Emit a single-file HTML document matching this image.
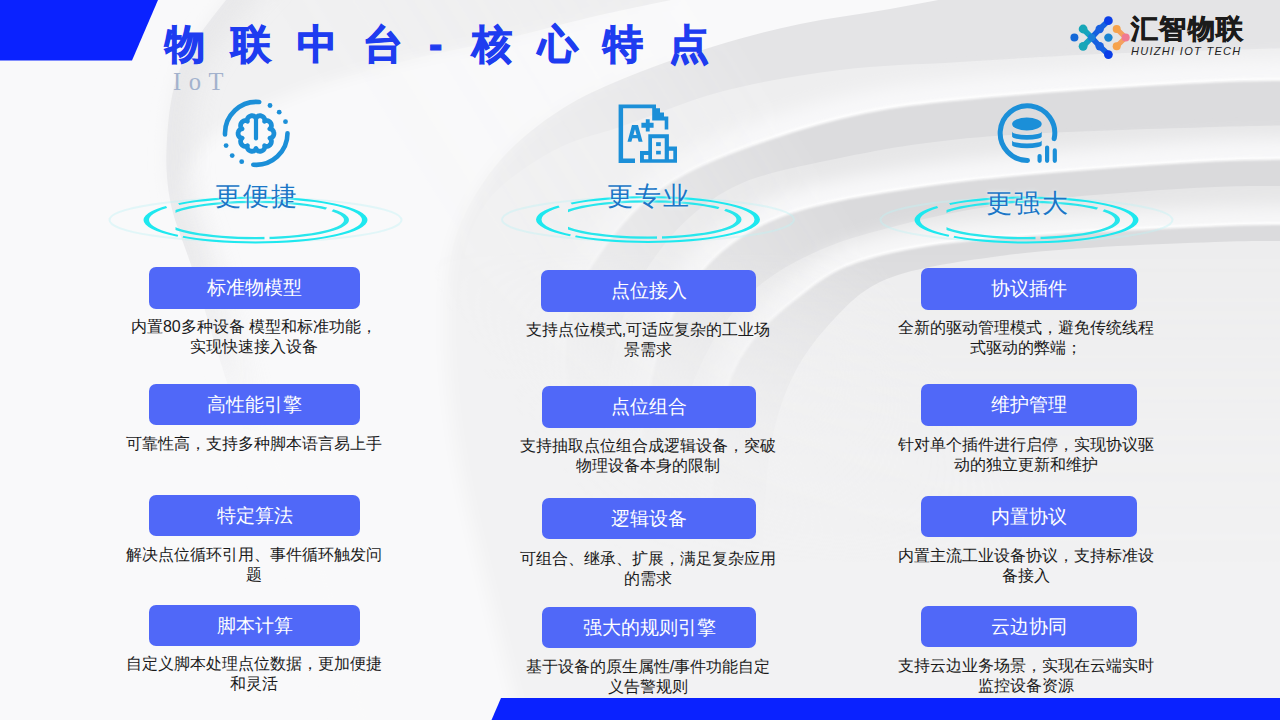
<!DOCTYPE html>
<html><head><meta charset="utf-8">
<style>
html,body{margin:0;padding:0;}
body{width:1280px;height:720px;position:relative;overflow:hidden;background:#fafafb;font-family:"Liberation Sans",sans-serif;}
.abs{position:absolute;}
#bg{position:absolute;left:0;top:0;}
.title{left:165px;top:16px;font-size:40px;font-weight:bold;color:#1e3cf0;-webkit-text-stroke:1.1px #1e3cf0;letter-spacing:26px;white-space:nowrap;line-height:56px;}
.iot{left:173px;top:66px;font-family:"Liberation Serif",serif;font-size:24.5px;color:#a3b2cd;letter-spacing:7.5px;line-height:32px;}
.btn{position:absolute;background:#5068f8;border-radius:7px;color:#fff;font-size:18.5px;text-align:center;line-height:42px;height:42px;}
.desc{position:absolute;font-size:16px;line-height:20px;color:#1a1a1a;text-align:center;white-space:nowrap;width:300px;}
.lab{position:absolute;font-size:26px;color:#1b76c6;letter-spacing:2px;line-height:30px;white-space:nowrap;text-shadow:0 0 2px rgba(240,252,255,0.9),0 0 5px rgba(240,252,255,0.8);}
.logo1{left:1131px;top:12px;font-size:27px;font-weight:bold;color:#1b1b1b;-webkit-text-stroke:0.7px #1b1b1b;letter-spacing:1.4px;line-height:34px;white-space:nowrap;}
.logo2{left:1131px;top:44px;font-size:11px;font-style:italic;color:#222;letter-spacing:1.3px;line-height:14px;white-space:nowrap;}
</style></head>
<body>
<svg id="bg" width="1280" height="720" viewBox="0 0 1280 720">
<defs>
<filter id="bl1" x="-50%" y="-50%" width="200%" height="200%"><feGaussianBlur stdDeviation="9"/></filter>
<filter id="bl2" x="-50%" y="-50%" width="200%" height="200%"><feGaussianBlur stdDeviation="2"/></filter>
<filter id="bl3" x="-50%%" y="-50%%" width="200%%" height="200%%"><feGaussianBlur stdDeviation="0.8"/></filter>
<linearGradient id="fg" x1="1000" y1="130" x2="520" y2="430" gradientUnits="userSpaceOnUse"><stop offset="0" stop-color="#fff"/><stop offset="0.3" stop-color="#fff"/><stop offset="0.62" stop-color="#777"/><stop offset="0.85" stop-color="#222"/><stop offset="1" stop-color="#000"/></linearGradient>
<mask id="fade" maskUnits="userSpaceOnUse" x="0" y="0" width="1280" height="720"><rect width="1280" height="720" fill="url(#fg)"/></mask>
<filter id="bl4" x="0" y="0" width="1280" height="720" filterUnits="userSpaceOnUse"><feGaussianBlur stdDeviation="8"/></filter>
<filter id="bl5" x="0" y="0" width="1280" height="720" filterUnits="userSpaceOnUse"><feGaussianBlur stdDeviation="12"/></filter>
<linearGradient id="fgL" x1="0" y1="0" x2="0" y2="720" gradientUnits="userSpaceOnUse"><stop offset="0" stop-color="#fff"/><stop offset="0.35" stop-color="#fff"/><stop offset="0.6" stop-color="#000"/></linearGradient>
<mask id="fadeL" maskUnits="userSpaceOnUse" x="0" y="0" width="1280" height="720"><rect width="1280" height="720" fill="url(#fgL)"/></mask>
<linearGradient id="fgV" x1="0" y1="0" x2="0" y2="720" gradientUnits="userSpaceOnUse"><stop offset="0" stop-color="#fff"/><stop offset="0.35" stop-color="#fff"/><stop offset="0.46" stop-color="#aaa"/><stop offset="0.62" stop-color="#444"/><stop offset="0.8" stop-color="#000"/></linearGradient>
<mask id="fadeV" maskUnits="userSpaceOnUse" x="0" y="0" width="1280" height="720"><rect width="1280" height="720" fill="url(#fgV)"/></mask>
</defs>
<rect width="1280" height="720" fill="#f9f9fa"/>
<g filter="url(#bl4)">
<path d="M262.0,-40.0 C250.0,-26.7 238.2,-15.7 226.0,0.0 C210.9,19.4 189.8,44.9 180.0,69.0 C170.9,91.4 168.5,116.4 167.0,139.0 C165.6,159.9 166.2,179.4 170.0,200.0 C174.1,222.3 183.3,240.8 192.0,268.0 C205.0,308.6 221.7,370.8 240.0,420.0 C257.8,468.1 281.3,508.6 300.0,560.0 C321.8,620.2 340.0,693.3 360.0,760.0 L1400,800 L1400,-100 Z" fill="#f1f1f2"/>
<path d="M720.0,-10.0 C680.0,-1.7 638.1,6.3 600.0,15.0 C565.1,23.0 533.4,32.2 500.0,40.0 C466.7,47.8 433.2,53.4 400.0,62.0 C366.5,70.7 330.5,80.2 300.0,92.0 C272.8,102.6 245.2,113.7 225.0,128.0 C208.4,139.8 194.1,153.9 185.0,168.0 C177.4,179.8 171.3,191.0 171.0,205.0 C170.6,223.2 183.7,242.4 192.0,268.0 C204.9,307.6 221.7,370.8 240.0,420.0 C257.8,468.1 281.3,508.6 300.0,560.0 C321.8,620.2 340.0,693.3 360.0,760.0 L1400,800 L1400,-100 Z" fill="#f9f9fa"/>
<path d="M980.0,-8.0 C950.0,-2.3 920.0,3.7 890.0,9.0 C860.0,14.3 829.4,17.8 800.0,24.0 C771.1,30.1 743.9,37.1 715.0,46.0 C684.0,55.5 647.1,68.5 620.0,80.0 C598.9,88.9 582.4,96.3 565.0,107.0 C547.4,117.9 529.0,131.8 515.0,145.0 C503.0,156.3 493.8,167.5 485.0,180.0 C476.2,192.5 467.9,206.3 462.0,220.0 C456.4,233.0 452.7,245.2 450.0,260.0 C446.8,277.8 446.2,298.6 446.0,320.0 C445.8,344.7 447.3,373.4 450.0,400.0 C452.7,426.7 456.4,450.8 462.0,480.0 C468.9,516.1 479.7,557.2 490.0,600.0 C502.0,649.5 516.7,706.7 530.0,760.0 L1400,800 L1400,-100 Z" fill="#f2f2f3"/>
</g>
<g mask="url(#fade)"><g mask="url(#fadeV)">
<path d="M262.0,-40.0 C250.0,-26.7 238.2,-15.7 226.0,0.0 C210.9,19.4 189.8,44.9 180.0,69.0 C170.9,91.4 168.5,116.4 167.0,139.0 C165.6,159.9 166.2,179.4 170.0,200.0 C174.1,222.3 183.3,240.8 192.0,268.0 C205.0,308.6 221.7,370.8 240.0,420.0 C257.8,468.1 281.3,508.6 300.0,560.0 C321.8,620.2 340.0,693.3 360.0,760.0 L1400,800 L1400,-100 Z" fill="#ededee"/>
<path d="M720.0,-10.0 C680.0,-1.7 638.1,6.3 600.0,15.0 C565.1,23.0 533.4,32.2 500.0,40.0 C466.7,47.8 433.2,53.4 400.0,62.0 C366.5,70.7 330.5,80.2 300.0,92.0 C272.8,102.6 245.2,113.7 225.0,128.0 C208.4,139.8 194.1,153.9 185.0,168.0 C177.4,179.8 171.3,191.0 171.0,205.0 C170.6,223.2 183.7,242.4 192.0,268.0 C204.9,307.6 221.7,370.8 240.0,420.0 C257.8,468.1 281.3,508.6 300.0,560.0 C321.8,620.2 340.0,693.3 360.0,760.0 L1400,800 L1400,-100 Z" fill="#f9f9fa"/>
<path d="M980.0,-8.0 C950.0,-2.3 920.0,3.7 890.0,9.0 C860.0,14.3 829.4,17.8 800.0,24.0 C771.1,30.1 743.9,37.1 715.0,46.0 C684.0,55.5 647.1,68.5 620.0,80.0 C598.9,88.9 582.4,96.3 565.0,107.0 C547.4,117.9 529.0,131.8 515.0,145.0 C503.0,156.3 493.8,167.5 485.0,180.0 C476.2,192.5 467.9,206.3 462.0,220.0 C456.4,233.0 452.7,245.2 450.0,260.0 C446.8,277.8 446.2,298.6 446.0,320.0 C445.8,344.7 447.3,373.4 450.0,400.0 C452.7,426.7 456.4,450.8 462.0,480.0 C468.9,516.1 479.7,557.2 490.0,600.0 C502.0,649.5 516.7,706.7 530.0,760.0 L1400,800 L1400,-100 Z" fill="#e4e4e6"/>
<path d="M1320.0,47.0 C1246.7,49.3 1165.1,51.1 1100.0,54.0 C1048.1,56.3 1004.9,59.2 960.0,62.0 C918.5,64.6 879.9,65.0 840.0,70.0 C799.9,75.0 757.8,82.0 720.0,92.0 C684.8,101.3 648.4,117.4 620.0,127.0 C599.0,134.1 581.8,137.4 565.0,145.0 C549.4,152.0 534.9,160.8 522.0,170.0 C510.1,178.6 498.7,187.1 490.0,198.0 C481.4,208.8 474.9,221.0 470.0,235.0 C464.3,251.1 462.0,270.5 460.0,290.0 C457.7,311.8 457.1,333.6 458.0,360.0 C459.2,394.7 463.1,440.3 470.0,480.0 C477.0,520.3 489.3,557.1 500.0,600.0 C512.4,649.5 526.7,706.7 540.0,760.0 L1400,800 L1400,-100 Z" fill="#eeeeef"/>
<path d="M1320.0,79.0 C1285.0,79.7 1257.6,79.1 1215.0,81.0 C1148.5,84.0 1024.4,92.3 960.0,99.0 C920.6,103.1 896.8,105.4 865.0,112.0 C831.9,118.9 796.0,129.3 765.0,140.0 C737.1,149.6 709.2,159.9 687.0,172.0 C668.7,182.0 653.9,192.5 640.0,205.0 C626.7,217.0 615.2,231.2 605.0,245.0 C595.4,258.0 586.7,270.9 580.0,285.0 C573.3,299.2 567.4,312.2 565.0,330.0 C561.7,354.6 567.6,389.2 570.0,420.0 C572.5,452.5 577.5,485.1 580.0,520.0 C582.7,558.1 583.3,600.0 585.0,640.0 C586.7,680.0 588.3,720.0 590.0,760.0" fill="none" stroke="#f8f8f9" stroke-width="40" opacity="1.00" filter="url(#bl1)"/>
<path d="M1320.0,79.0 C1285.0,79.7 1257.6,79.1 1215.0,81.0 C1148.5,84.0 1024.4,92.3 960.0,99.0 C920.6,103.1 896.8,105.4 865.0,112.0 C831.9,118.9 796.0,129.3 765.0,140.0 C737.1,149.6 709.2,159.9 687.0,172.0 C668.7,182.0 653.9,192.5 640.0,205.0 C626.7,217.0 615.2,231.2 605.0,245.0 C595.4,258.0 586.7,270.9 580.0,285.0 C573.3,299.2 567.4,312.2 565.0,330.0 C561.7,354.6 567.6,389.2 570.0,420.0 C572.5,452.5 577.5,485.1 580.0,520.0 C582.7,558.1 583.3,600.0 585.0,640.0 C586.7,680.0 588.3,720.0 590.0,760.0 L1400,800 L1400,-100 Z" fill="#dcdcde"/>
<path d="M1320.0,125.0 C1285.0,125.7 1257.6,125.6 1215.0,127.0 C1148.5,129.2 1029.0,131.9 960.0,139.0 C912.4,143.9 878.0,150.1 840.0,158.0 C805.0,165.3 766.8,172.1 740.0,184.0 C719.6,193.1 704.5,204.4 690.0,217.0 C676.4,228.9 665.1,242.9 655.0,257.0 C645.2,270.6 636.9,284.0 630.0,300.0 C622.2,317.9 616.2,337.7 612.0,360.0 C607.0,386.7 605.5,418.5 605.0,450.0 C604.4,484.8 608.0,517.9 610.0,560.0 C612.7,616.8 616.7,693.3 620.0,760.0 L1400,800 L1400,-100 Z" fill="#e7e7e8"/>
<path d="M1320.0,158.0 C1285.0,158.7 1258.8,157.7 1215.0,160.0 C1141.5,163.9 999.9,174.0 920.0,186.0 C864.4,194.4 815.7,202.1 780.0,216.0 C755.5,225.5 738.8,235.9 722.0,250.0 C705.5,263.9 691.2,281.6 680.0,300.0 C668.9,318.3 661.5,337.6 655.0,360.0 C647.4,386.6 643.3,418.4 640.0,450.0 C636.3,484.7 636.0,517.9 635.0,560.0 C633.7,616.8 635.0,693.3 635.0,760.0" fill="none" stroke="#f8f8f9" stroke-width="40" opacity="1.00" filter="url(#bl1)"/>
<path d="M1320.0,79.0 C1285.0,79.7 1257.6,79.1 1215.0,81.0 C1148.5,84.0 1024.4,92.3 960.0,99.0 C920.6,103.1 896.8,105.4 865.0,112.0 C831.9,118.9 796.0,129.3 765.0,140.0 C737.1,149.6 709.2,159.9 687.0,172.0 C668.7,182.0 653.9,192.5 640.0,205.0 C626.7,217.0 615.2,231.2 605.0,245.0 C595.4,258.0 586.7,270.9 580.0,285.0 C573.3,299.2 567.4,312.2 565.0,330.0 C561.7,354.6 567.6,389.2 570.0,420.0 C572.5,452.5 577.5,485.1 580.0,520.0 C582.7,558.1 583.3,600.0 585.0,640.0 C586.7,680.0 588.3,720.0 590.0,760.0" fill="none" stroke="#ffffff" stroke-width="3.0" opacity="0.90" filter="url(#bl3)"/>
<path d="M1320.0,158.0 C1285.0,158.7 1258.8,157.7 1215.0,160.0 C1141.5,163.9 999.9,174.0 920.0,186.0 C864.4,194.4 815.7,202.1 780.0,216.0 C755.5,225.5 738.8,235.9 722.0,250.0 C705.5,263.9 691.2,281.6 680.0,300.0 C668.9,318.3 661.5,337.6 655.0,360.0 C647.4,386.6 643.3,418.4 640.0,450.0 C636.3,484.7 636.0,517.9 635.0,560.0 C633.7,616.8 635.0,693.3 635.0,760.0 L1400,800 L1400,-100 Z" fill="#dadadc"/>
<path d="M1320.0,186.0 C1285.0,186.3 1256.2,185.1 1215.0,187.0 C1156.0,189.7 1057.9,196.8 1000.0,205.0 C960.2,210.6 931.3,217.0 900.0,225.0 C871.6,232.2 844.2,239.3 820.0,250.0 C798.0,259.7 777.1,271.0 760.0,285.0 C744.1,298.0 731.5,313.1 720.0,330.0 C707.9,347.9 699.0,367.6 690.0,390.0 C679.3,416.6 667.9,447.5 662.0,480.0 C655.3,516.8 656.9,557.1 655.0,600.0 C652.8,649.5 651.7,706.7 650.0,760.0 L1400,800 L1400,-100 Z" fill="#e6e6e7"/>
<path d="M1320.0,223.0 C1285.0,223.7 1258.8,223.0 1215.0,225.0 C1141.5,228.3 987.0,234.5 920.0,246.0 C884.5,252.1 861.9,257.9 840.0,268.0 C822.7,276.0 810.5,286.5 797.0,297.0 C783.8,307.2 770.6,317.9 760.0,330.0 C749.8,341.7 740.9,353.8 734.0,368.0 C726.5,383.5 721.5,403.7 718.0,420.0 C715.0,434.1 714.3,443.6 713.0,460.0 C711.0,485.8 711.1,520.9 710.0,560.0 C708.5,615.2 706.7,693.3 705.0,760.0" fill="none" stroke="#f7f7f8" stroke-width="36" opacity="1.00" filter="url(#bl1)"/>
<path d="M1320.0,158.0 C1285.0,158.7 1258.8,157.7 1215.0,160.0 C1141.5,163.9 999.9,174.0 920.0,186.0 C864.4,194.4 815.7,202.1 780.0,216.0 C755.5,225.5 738.8,235.9 722.0,250.0 C705.5,263.9 691.2,281.6 680.0,300.0 C668.9,318.3 661.5,337.6 655.0,360.0 C647.4,386.6 643.3,418.4 640.0,450.0 C636.3,484.7 636.0,517.9 635.0,560.0 C633.7,616.8 635.0,693.3 635.0,760.0" fill="none" stroke="#ffffff" stroke-width="3.0" opacity="0.90" filter="url(#bl3)"/>
<path d="M1320.0,223.0 C1285.0,223.7 1258.8,223.0 1215.0,225.0 C1141.5,228.3 987.0,234.5 920.0,246.0 C884.5,252.1 861.9,257.9 840.0,268.0 C822.7,276.0 810.5,286.5 797.0,297.0 C783.8,307.2 770.6,317.9 760.0,330.0 C749.8,341.7 740.9,353.8 734.0,368.0 C726.5,383.5 721.5,403.7 718.0,420.0 C715.0,434.1 714.3,443.6 713.0,460.0 C711.0,485.8 711.1,520.9 710.0,560.0 C708.5,615.2 706.7,693.3 705.0,760.0 L1400,800 L1400,-100 Z" fill="#dbdbdd"/>
<path d="M1320.0,241.0 C1285.0,241.3 1256.2,240.5 1215.0,242.0 C1156.0,244.2 1061.0,247.5 1000.0,256.0 C953.9,262.5 909.3,268.1 880.0,282.0 C860.0,291.5 848.7,303.8 835.0,318.0 C820.2,333.4 805.4,352.1 795.0,372.0 C784.2,392.6 777.4,413.8 772.0,440.0 C764.9,474.0 765.0,514.9 762.0,560.0 C758.1,618.2 755.3,693.3 752.0,760.0 L1400,800 L1400,-100 Z" fill="#ededee"/>
<path d="M1320.0,223.0 C1285.0,223.7 1258.8,223.0 1215.0,225.0 C1141.5,228.3 987.0,234.5 920.0,246.0 C884.5,252.1 861.9,257.9 840.0,268.0 C822.7,276.0 810.5,286.5 797.0,297.0 C783.8,307.2 770.6,317.9 760.0,330.0 C749.8,341.7 740.9,353.8 734.0,368.0 C726.5,383.5 721.5,403.7 718.0,420.0 C715.0,434.1 714.3,443.6 713.0,460.0 C711.0,485.8 711.1,520.9 710.0,560.0 C708.5,615.2 706.7,693.3 705.0,760.0" fill="none" stroke="#ffffff" stroke-width="3.0" opacity="0.90" filter="url(#bl3)"/>
</g></g>
<clipPath id="cxL"><path d="M262.0,-40.0 C250.0,-26.7 238.2,-15.7 226.0,0.0 C210.9,19.4 189.8,44.9 180.0,69.0 C170.9,91.4 168.5,116.4 167.0,139.0 C165.6,159.9 166.2,179.4 170.0,200.0 C174.1,222.3 183.3,240.8 192.0,268.0 C205.0,308.6 221.7,370.8 240.0,420.0 C257.8,468.1 281.3,508.6 300.0,560.0 C321.8,620.2 340.0,693.3 360.0,760.0 L1400,800 L1400,-100 Z"/></clipPath>
<g clip-path="url(#cxL)"><path d="M262.0,-40.0 C250.0,-26.7 238.2,-15.7 226.0,0.0 C210.9,19.4 189.8,44.9 180.0,69.0 C170.9,91.4 168.5,116.4 167.0,139.0 C165.6,159.9 166.2,179.4 170.0,200.0 C174.1,222.3 183.3,240.8 192.0,268.0 C205.0,308.6 221.7,370.8 240.0,420.0 C257.8,468.1 281.3,508.6 300.0,560.0 C321.8,620.2 340.0,693.3 360.0,760.0" fill="none" stroke="#e4e4e6" stroke-width="44" opacity="0.70" filter="url(#bl5)" mask="url(#fadeL)"/></g>
</svg>

<!-- top-left blue shape and bottom bar -->
<svg class="abs" style="left:0;top:0" width="1280" height="720" viewBox="0 0 1280 720">
  <polygon points="0,0 158,0 132,60.5 0,60.5" fill="#0a22ff"/>
  <polygon points="501,698 1280,698 1280,720 491.5,720" fill="#0a22ff"/>
</svg>

<!-- ICONS -->
<svg class="abs" style="left:0;top:0" width="1280" height="720" viewBox="0 0 1280 720">
 <defs>
  <g id="ring">
   <ellipse cx="0" cy="0" rx="146" ry="22" fill="none" stroke="#bdf3f6" stroke-width="2" opacity="0.4"/>
   <path fill-rule="evenodd" fill="#1ee8ef" d="M-112,0 A112,23.5 0 1,0 112,0 A112,23.5 0 1,0 -112,0Z M-106.5,0 A106.5,21.5 0 1,1 106.5,0 A106.5,21.5 0 1,1 -106.5,0Z" mask="url(#gapO)"/>
   <path fill-rule="evenodd" fill="#28e6ec" d="M-93.5,0 A93.5,19.3 0 1,0 93.5,0 A93.5,19.3 0 1,0 -93.5,0Z M-88.5,0 A88.5,17 0 1,1 88.5,0 A88.5,17 0 1,1 -88.5,0Z" mask="url(#gapI)"/>
  </g>
  <mask id="gapO" maskUnits="userSpaceOnUse" x="-200" y="-60" width="400" height="120">
   <rect x="-200" y="-60" width="400" height="120" fill="#fff"/>
   <rect x="-92" y="-30" width="12" height="20" fill="#000" transform="rotate(-30 -86 -20)"/>
   <rect x="-79" y="10" width="5" height="25" fill="#000" transform="rotate(20 -77 20)"/>
  </mask>
  <mask id="gapI" maskUnits="userSpaceOnUse" x="-200" y="-60" width="400" height="120">
   <rect x="-200" y="-60" width="400" height="120" fill="#fff"/>
   <rect x="-110" y="-14" width="30" height="30" fill="#000"/>
   <rect x="9" y="10" width="5" height="20" fill="#000"/>
   <rect x="74" y="-25" width="6" height="20" fill="#000" transform="rotate(35 77 -15)"/>
  </mask>
 </defs>
 <use href="#ring" transform="translate(255.5,220)"/>
 <use href="#ring" transform="translate(648,219.5)"/>
 <use href="#ring" transform="translate(1026.5,220)"/>

 <!-- icon 1 brain -->
 <g fill="none" stroke="#1b8fd8" stroke-linecap="round">
  <path d="M225,134.4 A31.5,31.5 0 0,1 259.2,102.0" stroke-width="4.6"/>
  <path d="M287.5,133.3 A31.5,31.5 0 0,1 253.3,164.7" stroke-width="4.6"/>
  <path d="M273.9,133.5 273.9,134.1 273.8,134.7 273.6,135.2 273.4,135.8 273.1,136.3 272.7,136.8 272.3,137.2 271.7,137.7 271.1,138.0 269.9,138.1 270.8,139.0 271.1,139.7 271.3,140.3 271.4,141.0 271.4,141.6 271.3,142.2 271.2,142.8 271.0,143.3 270.8,143.8 270.5,144.3 270.1,144.8 269.7,145.2 269.3,145.5 268.8,145.8 268.2,146.1 267.6,146.3 267.0,146.4 266.3,146.4 265.6,146.3 264.6,145.7 264.8,146.9 264.7,147.6 264.5,148.3 264.2,148.8 263.8,149.4 263.5,149.8 263.0,150.2 262.6,150.5 262.1,150.8 261.5,151.0 261.0,151.2 260.4,151.3 259.9,151.3 259.3,151.2 258.7,151.1 258.1,150.9 257.6,150.6 257.0,150.2 256.5,149.6 256.0,148.5 255.5,149.6 255.0,150.2 254.4,150.6 253.9,150.9 253.3,151.1 252.7,151.2 252.1,151.3 251.6,151.3 251.0,151.2 250.5,151.0 249.9,150.8 249.4,150.5 249.0,150.2 248.5,149.8 248.2,149.4 247.8,148.8 247.5,148.3 247.3,147.6 247.2,146.9 247.4,145.7 246.4,146.3 245.7,146.4 245.0,146.4 244.4,146.3 243.8,146.1 243.2,145.8 242.7,145.5 242.3,145.2 241.9,144.8 241.5,144.3 241.2,143.8 241.0,143.3 240.8,142.8 240.7,142.2 240.6,141.6 240.6,141.0 240.7,140.3 240.9,139.7 241.2,139.0 242.1,138.1 240.9,138.0 240.3,137.7 239.7,137.2 239.3,136.8 238.9,136.3 238.6,135.8 238.4,135.2 238.2,134.7 238.1,134.1 238.1,133.5 238.1,132.9 238.2,132.3 238.4,131.8 238.6,131.2 238.9,130.7 239.3,130.2 239.7,129.8 240.3,129.3 240.9,129.0 242.1,128.9 241.2,128.0 240.9,127.3 240.7,126.7 240.6,126.0 240.6,125.4 240.7,124.8 240.8,124.2 241.0,123.7 241.2,123.2 241.5,122.7 241.9,122.2 242.3,121.8 242.7,121.5 243.2,121.2 243.8,120.9 244.4,120.7 245.0,120.6 245.7,120.6 246.4,120.7 247.4,121.3 247.2,120.1 247.3,119.4 247.5,118.7 247.8,118.2 248.2,117.6 248.5,117.2 249.0,116.8 249.4,116.5 249.9,116.2 250.5,116.0 251.0,115.8 251.6,115.7 252.1,115.7 252.7,115.8 253.3,115.9 253.9,116.1 254.4,116.4 255.0,116.8 255.5,117.4 256.0,118.5 256.5,117.4 257.0,116.8 257.6,116.4 258.1,116.1 258.7,115.9 259.3,115.8 259.9,115.7 260.4,115.7 261.0,115.8 261.5,116.0 262.1,116.2 262.6,116.5 263.0,116.8 263.5,117.2 263.8,117.6 264.2,118.2 264.5,118.7 264.7,119.4 264.8,120.1 264.6,121.3 265.6,120.7 266.3,120.6 267.0,120.6 267.6,120.7 268.2,120.9 268.8,121.2 269.3,121.5 269.7,121.8 270.1,122.2 270.5,122.7 270.8,123.2 271.0,123.7 271.2,124.2 271.3,124.8 271.4,125.4 271.4,126.0 271.3,126.7 271.1,127.3 270.8,128.0 269.9,128.9 271.1,129.0 271.7,129.3 272.3,129.8 272.7,130.2 273.1,130.7 273.4,131.2 273.6,131.8 273.8,132.3 273.9,132.9Z" stroke-width="4.8" stroke-linejoin="round"/>
  <path d="M256,120 L256,138.5" stroke-width="4.2"/>
 </g>
 <g fill="#1b8fd8">
  <circle cx="270" cy="105.5" r="2.4"/><circle cx="279.2" cy="112.2" r="2.4"/><circle cx="285.5" cy="121.7" r="2.4"/>
  <circle cx="226.1" cy="145.6" r="2.4"/><circle cx="232.2" cy="155.6" r="2.4"/><circle cx="241.7" cy="161.7" r="2.4"/>
 </g>

 <!-- icon 2 doc -->
 <g fill="#1b8fd8">
  <path d="M618.6,104.4 H656 V108.3 H660 V112.4 H664 V116.5 H668.3 V129.4 H664.7 V120.5 H652.2 V108.3 H623.1 V158.6 H635 V163 H618.6 Z"/>
  <path d="M632,125 H638 L642.6,141.7 H638.6 L637.6,138.3 H632.4 L631.4,141.7 H627.5 Z M633.4,135 H636.6 L635,129.2 Z" fill-rule="evenodd"/>
  <path d="M645.8,119.2 H649.7 V122.8 H653.6 V127.8 H649.7 V131.4 H645.8 V127.8 H641.4 V122.8 H645.8 Z"/>
  <path fill-rule="evenodd" d="M640,151.1 H648.3 V134.2 H668.9 V146.4 H677 V162.8 H640 Z M643.9,155 H648.3 V159.2 H643.9 Z M668.9,150.8 H673.3 V159.2 H668.9 Z M652,138.3 H664.7 V159.2 H652 Z"/>
  <rect x="656.1" y="142.2" width="4.7" height="3.9"/>
  <rect x="656.1" y="150.8" width="4.7" height="3.6"/>
 </g>

 <!-- icon 3 db -->
 <g fill="none" stroke="#1b8fd8" stroke-linecap="round">
  <path d="M1027.5,160.4 A27.3,27.3 0 1,1 1054.2,138.6" stroke-width="5"/>
  <path d="M1039.6,156 V160.8 M1047.1,147.6 V160.8 M1054.8,150.4 V160.8" stroke-width="4.2"/>
 </g>
 <g fill="#1b8fd8">
  <ellipse cx="1026.9" cy="124" rx="14.8" ry="6.45"/>
  <path d="M1012.1,131.5 A14.8,3.6 0 0,0 1041.7,131.5 V136.6 A14.8,3.1 0 0,1 1012.1,136.6Z"/>
  <path d="M1012.1,140.4 A14.8,3.0 0 0,0 1041.7,140.4 V145 A14.8,3.3 0 0,1 1012.1,145Z"/>
 </g>

 <!-- logo mark -->
 <g stroke-linecap="round" fill="none" stroke-width="5.5">
  <path d="M1083.1,29 L1091.7,37.6 L1083.1,46.3" stroke="#16a3c0"/>
  <path d="M1091.7,37.6 L1099.7,29 L1108.4,20.7 M1091.7,37.6 L1099.7,46.3 L1108.4,54.6" stroke="#1660e0"/>
  <path d="M1116.7,29 L1125.7,37.6 L1116.7,46.3" stroke="#f4a060" stroke-width="5"/>
 </g>
 <g>
  <circle cx="1074.4" cy="37.6" r="4" fill="#1468d8"/>
  <circle cx="1083.1" cy="29" r="4.4" fill="#17a6b8"/>
  <circle cx="1083.1" cy="46.3" r="4.4" fill="#17a6b8"/>
  <circle cx="1091.7" cy="37.6" r="3.8" fill="#1a7fd8"/>
  <circle cx="1099.7" cy="29" r="4.2" fill="#1860e0"/>
  <circle cx="1099.7" cy="46.3" r="4.2" fill="#1860e0"/>
  <circle cx="1108.4" cy="20.7" r="4.4" fill="#0b3ee8"/>
  <circle cx="1108.4" cy="54.6" r="4.4" fill="#0b3ee8"/>
  <circle cx="1108.4" cy="37.6" r="4.2" fill="#1a84d0"/>
  <circle cx="1116.7" cy="29" r="4" fill="#f6a24c"/>
  <circle cx="1116.7" cy="46.3" r="4" fill="#f6a24c"/>
  <circle cx="1125.7" cy="37.6" r="4" fill="#f07a92"/>
 </g>
</svg>
<!-- /ICONS -->
<div class="abs title">物联中台<span style="letter-spacing:30px">-</span><span style="letter-spacing:25.5px">核心特点</span></div>
<div class="abs iot">IoT</div>

<div class="abs logo1">汇智物联</div>
<div class="abs logo2">HUIZHI IOT TECH</div>

<!-- labels -->
<div class="lab" style="left:215px;top:181px;">更便捷</div>
<div class="lab" style="left:607px;top:181px;">更专业</div>
<div class="lab" style="left:986px;top:188px;">更强大</div>

<!-- column 1 -->
<div class="btn" style="left:149px;top:267px;width:211px;">标准物模型</div>
<div class="desc" style="left:104px;top:317px;">内置80多种设备 模型和标准功能，<br>实现快速接入设备</div>
<div class="btn" style="left:149px;top:384px;width:211px;height:41px;line-height:41px;">高性能引擎</div>
<div class="desc" style="left:104px;top:434px;">可靠性高，支持多种脚本语言易上手</div>
<div class="btn" style="left:149px;top:495px;width:211px;height:41px;line-height:41px;">特定算法</div>
<div class="desc" style="left:104px;top:545px;">解决点位循环引用、事件循环触发问<br>题</div>
<div class="btn" style="left:149px;top:605px;width:211px;height:41px;line-height:41px;">脚本计算</div>
<div class="desc" style="left:104px;top:654px;">自定义脚本处理点位数据，更加便捷<br>和灵活</div>

<!-- column 2 -->
<div class="btn" style="left:541px;top:270px;width:215px;">点位接入</div>
<div class="desc" style="left:498px;top:320px;">支持点位模式,可适应复杂的工业场<br>景需求</div>
<div class="btn" style="left:542px;top:386px;width:214px;">点位组合</div>
<div class="desc" style="left:498px;top:436px;">支持抽取点位组合成逻辑设备，突破<br>物理设备本身的限制</div>
<div class="btn" style="left:542px;top:498px;width:214px;height:41px;line-height:41px;">逻辑设备</div>
<div class="desc" style="left:498px;top:549px;">可组合、继承、扩展，满足复杂应用<br>的需求</div>
<div class="btn" style="left:542px;top:607px;width:214px;height:41px;line-height:41px;">强大的规则引擎</div>
<div class="desc" style="left:498px;top:657px;">基于设备的原生属性/事件功能自定<br>义告警规则</div>

<!-- column 3 -->
<div class="btn" style="left:921px;top:268px;width:216px;">协议插件</div>
<div class="desc" style="left:876px;top:318px;">全新的驱动管理模式，避免传统线程<br>式驱动的弊端；</div>
<div class="btn" style="left:921px;top:384px;width:216px;">维护管理</div>
<div class="desc" style="left:876px;top:435px;">针对单个插件进行启停，实现协议驱<br>动的独立更新和维护</div>
<div class="btn" style="left:921px;top:496px;width:216px;height:41px;line-height:41px;">内置协议</div>
<div class="desc" style="left:876px;top:546px;">内置主流工业设备协议，支持标准设<br>备接入</div>
<div class="btn" style="left:921px;top:606px;width:216px;height:41px;line-height:41px;">云边协同</div>
<div class="desc" style="left:876px;top:656px;">支持云边业务场景，实现在云端实时<br>监控设备资源</div>

</body></html>
